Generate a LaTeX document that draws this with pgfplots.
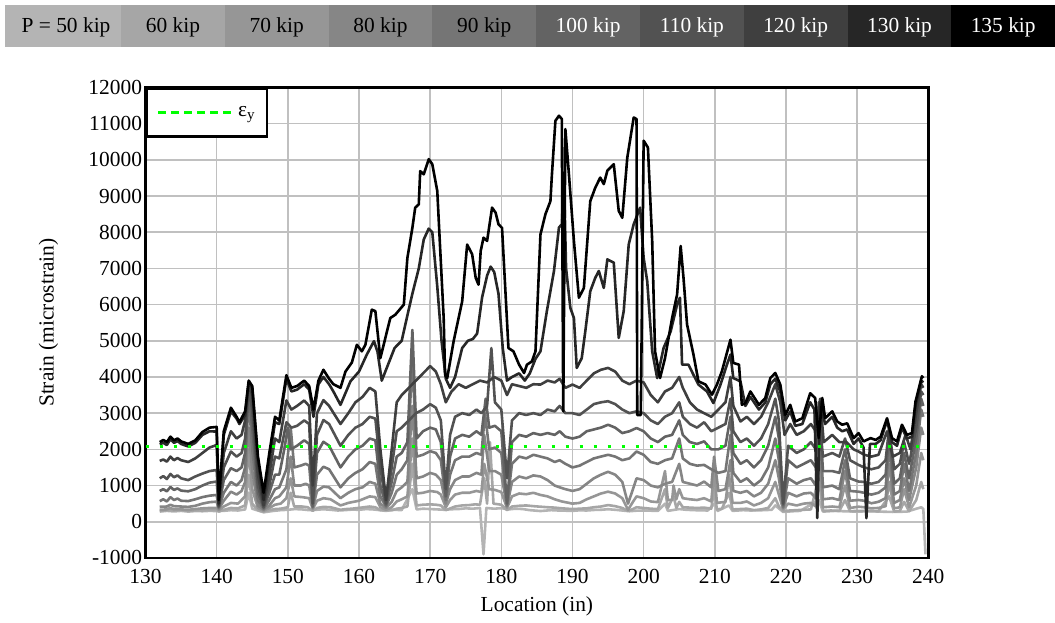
\documentclass[border=0pt]{standalone}
\usepackage{fontspec}
\setmainfont{Liberation Serif}
\usepackage{pgfplots}
\pgfplotsset{compat=1.18}
\definecolor{cA}{RGB}{180,180,180}
\definecolor{cB}{RGB}{166,166,166}
\definecolor{cC}{RGB}{150,150,150}
\definecolor{cD}{RGB}{134,134,134}
\definecolor{cE}{RGB}{117,117,117}
\definecolor{cF}{RGB}{99,99,99}
\definecolor{cG}{RGB}{82,82,82}
\definecolor{cH}{RGB}{63,63,63}
\definecolor{cI}{RGB}{38,38,38}
\definecolor{cJ}{RGB}{0,0,0}
\definecolor{gridc}{RGB}{192,192,192}
\definecolor{ygreen}{RGB}{0,255,0}
\newcommand{\fs}{\fontsize{21.5}{25}\selectfont}
\begin{document}
\begin{tikzpicture}
\path (0bp,0bp) rectangle (1055bp,-623bp);
% load colour bar
\fill[cA] (5bp,-5bp) rectangle (121bp,-47bp);
\fill[cB] (121bp,-5bp) rectangle (224.8bp,-47bp);
\fill[cC] (224.8bp,-5bp) rectangle (328.6bp,-47bp);
\fill[cD] (328.6bp,-5bp) rectangle (432.4bp,-47bp);
\fill[cE] (432.4bp,-5bp) rectangle (536.2bp,-47bp);
\fill[cF] (536.2bp,-5bp) rectangle (640bp,-47bp);
\fill[cG] (640bp,-5bp) rectangle (743.8bp,-47bp);
\fill[cH] (743.8bp,-5bp) rectangle (847.6bp,-47bp);
\fill[cI] (847.6bp,-5bp) rectangle (951.4bp,-47bp);
\fill[cJ] (951.4bp,-5bp) rectangle (1055bp,-47bp);
\node[font=\fs,text=black] at (66bp,-27bp) {P = 50 kip};
\node[font=\fs,text=black] at (172.9bp,-27bp) {60 kip};
\node[font=\fs,text=black] at (276.7bp,-27bp) {70 kip};
\node[font=\fs,text=black] at (380.5bp,-27bp) {80 kip};
\node[font=\fs,text=black] at (484.3bp,-27bp) {90 kip};
\node[font=\fs,text=white] at (588.1bp,-27bp) {100 kip};
\node[font=\fs,text=white] at (691.9bp,-27bp) {110 kip};
\node[font=\fs,text=white] at (795.7bp,-27bp) {120 kip};
\node[font=\fs,text=white] at (899.5bp,-27bp) {130 kip};
\node[font=\fs,text=white] at (1003.2bp,-27bp) {135 kip};
\begin{axis}[
  at={(145.5bp,-557.9bp)}, anchor=south west,
  scale only axis, width=782.8bp, height=470.4bp,
  xmin=130, xmax=240, ymin=-1000, ymax=12000,
  xtick={130,140,...,240}, ytick={-1000,0,...,12000},
  scaled y ticks=false, scaled x ticks=false,
  grid=major, major grid style={draw=gridc, line width=1.6bp},
  axis line style={line width=2.6bp},
  major tick length=0pt,
  tick label style={font=\fs},
  xticklabel style={yshift=-8bp},
  /pgf/number format/assume math mode=true,
  /pgf/number format/1000 sep={},
  xlabel={Location (in)}, ylabel={Strain (microstrain)},
  every axis x label/.style={at={(axis description cs:0.5,0)}, yshift=-48bp, anchor=center, font=\fs},
  every axis y label/.style={at={(axis description cs:0,0.5)}, xshift=-97bp, rotate=90, anchor=center, font=\fs},
  legend style={at={(0,1)}, anchor=north west, draw=black, line width=2.6bp, fill=white, font=\fs, inner xsep=10bp, inner ysep=16bp, legend cell align=left},
  legend image code/.code={\draw[#1, line width=3.3bp, dash pattern=on 7.5bp off 5.5bp] (0bp,0bp) -- (76bp,0bp);},
]
% 50 kip
\addplot[forget plot, color=cA, line width=2.6bp, line join=round] coordinates {
(132.0,280)(133.0,300)(134.0,285)(135.0,300)(136.0,280)(137.0,295)(138.0,290)(139.0,300)(140.0,295)(141.0,300)(142.0,320)(143.0,310)(144.0,340)(144.5,800)(145.0,360)(146.6,260)(148.0,300)(149.0,320)(150.0,330)(151.0,350)(152.0,340)(153.0,320)(154.0,330)(155.0,345)(156.0,330)(157.0,310)(158.0,320)(159.0,335)(160.0,330)(161.0,350)(162.0,340)(163.8,300)(165.0,330)(166.0,320)(167.5,900)(168.1,340)(169.0,360)(170.0,350)(171.0,340)(172.0,330)(173.0,345)(174.0,350)(175.0,370)(176.0,360)(177.0,380)(177.5,-900)(177.9,380)(179.0,360)(180.0,375)(181.0,340)(182.0,360)(183.0,350)(184.0,320)(185.5,295)(187.0,320)(188.0,310)(190.0,300)(191.0,315)(192.0,310)(193.0,325)(194.0,330)(195.0,345)(196.0,330)(198.0,290)(199.0,305)(200.0,310)(202.0,300)(203.0,500)(203.4,300)(205.0,350)(206.0,330)(207.0,320)(209.0,310)(210.0,500)(210.4,300)(212.0,450)(212.5,300)(214.0,320)(215.0,310)(217.0,320)(218.0,330)(218.5,450)(219.6,270)(221.0,290)(222.0,300)(224.6,600)(225.2,280)(227.0,300)(228.0,290)(230.0,280)(232.0,290)(233.0,280)(235.0,270)(237.0,280)(239.0,400)(239.3,350)(239.6,-900)
};
% 60 kip
\addplot[forget plot, color=cB, line width=2.6bp, line join=round] coordinates {
(132.0,300)(133.0,320)(134.0,310)(135.0,325)(136.0,300)(137.0,315)(138.0,310)(139.0,325)(140.0,320)(140.3,280)(141.0,330)(142.0,380)(143.0,370)(144.0,450)(144.5,1300)(145.0,500)(145.8,320)(146.6,280)(147.4,320)(148.2,350)(149.0,360)(150.0,400)(150.4,800)(150.9,420)(152.0,420)(152.8,400)(153.5,300)(154.1,380)(155.0,410)(156.0,400)(157.4,330)(158.2,350)(159.0,360)(160.3,390)(161.5,420)(162.3,400)(163.0,320)(164.6,320)(165.3,360)(166.0,380)(166.8,420)(167.5,1600)(168.1,450)(169.0,470)(170.0,480)(170.8,470)(171.5,450)(172.2,320)(173.5,420)(174.5,450)(175.5,460)(176.3,480)(177.0,470)(177.6,1200)(178.0,500)(178.4,2200)(178.9,500)(180.0,470)(180.8,320)(181.5,420)(182.5,440)(183.5,450)(184.5,430)(185.5,415)(186.5,400)(187.5,390)(188.5,370)(190.0,350)(191.0,360)(192.0,370)(193.0,400)(194.0,420)(195.0,460)(196.0,430)(197.0,380)(197.8,300)(198.5,350)(199.0,400)(200.0,380)(201.0,360)(202.0,350)(203.0,900)(203.4,380)(204.2,700)(204.6,380)(205.0,550)(205.5,400)(206.5,390)(207.5,380)(208.5,390)(209.5,360)(209.9,900)(210.3,340)(211.0,360)(212.0,800)(212.5,340)(213.5,350)(214.5,360)(215.5,320)(216.5,340)(217.5,380)(218.5,650)(219.0,420)(219.6,290)(220.5,310)(221.5,320)(222.5,330)(223.5,340)(224.6,1200)(225.2,300)(226.3,310)(227.5,300)(228.3,600)(229.0,290)(230.0,300)(231.0,300)(232.0,295)(233.0,290)(234.5,700)(235.2,280)(236.0,300)(236.6,550)(237.3,290)(238.3,600)(239.0,1100)(239.3,900)
};
% 70 kip
\addplot[forget plot, color=cC, line width=2.6bp, line join=round] coordinates {
(132.0,330)(133.0,340)(133.5,380)(134.0,340)(135.0,340)(136.0,330)(137.0,350)(138.0,370)(139.0,380)(140.0,380)(140.3,320)(141.0,420)(142.0,520)(143.0,500)(144.0,700)(144.5,2000)(145.0,900)(145.8,380)(146.6,300)(147.4,380)(148.2,470)(149.0,500)(149.8,650)(150.4,1200)(150.9,700)(152.0,680)(153.0,650)(153.5,350)(154.1,580)(155.0,650)(156.0,620)(157.4,450)(158.5,520)(160.0,580)(161.5,700)(162.3,680)(163.0,400)(163.8,330)(164.6,400)(165.3,560)(166.0,620)(166.8,700)(167.5,2300)(168.1,780)(169.0,800)(170.0,850)(171.0,820)(171.5,750)(172.2,400)(172.8,600)(173.5,750)(174.5,800)(175.5,800)(176.5,850)(177.2,820)(177.6,1600)(178.3,900)(179.1,880)(180.0,820)(180.8,380)(181.5,700)(182.5,780)(183.5,760)(184.5,800)(185.5,740)(186.5,700)(187.5,620)(188.5,560)(190.0,500)(191.0,520)(192.0,620)(193.0,700)(194.0,780)(195.0,830)(196.0,780)(197.0,650)(197.8,330)(198.5,550)(199.0,700)(200.0,650)(201.0,560)(202.0,540)(203.0,1400)(203.4,600)(204.0,600)(204.2,1000)(204.6,620)(205.0,900)(205.5,650)(206.5,620)(207.5,600)(208.5,650)(209.5,560)(209.9,1400)(210.3,520)(211.5,550)(212.0,1300)(212.5,520)(213.6,520)(214.5,560)(215.5,450)(216.5,520)(217.5,650)(218.5,1100)(219.0,750)(219.6,340)(220.3,500)(221.5,450)(222.5,500)(223.5,520)(224.2,420)(224.6,2000)(225.2,400)(226.5,420)(227.5,400)(228.3,1000)(229.0,380)(230.2,415)(231.0,400)(232.0,370)(233.0,380)(234.0,430)(234.5,1100)(235.2,370)(236.0,400)(236.6,900)(237.3,400)(238.3,1000)(239.0,1900)(239.3,1700)
};
% 80 kip
\addplot[forget plot, color=cD, line width=2.6bp, line join=round] coordinates {
(132.0,415)(133.0,420)(133.5,470)(134.0,430)(135.0,420)(136.0,410)(137.0,440)(138.0,500)(139.0,540)(140.0,555)(140.3,350)(141.0,580)(142.0,830)(142.8,750)(143.5,850)(144.0,1100)(144.5,2600)(145.0,1400)(145.8,450)(146.6,330)(147.4,450)(148.2,650)(148.8,700)(149.8,950)(150.4,1800)(150.9,1000)(151.8,1000)(152.5,1050)(153.0,1000)(153.5,380)(154.1,850)(155.0,970)(155.8,950)(156.6,800)(157.4,650)(158.5,800)(159.5,900)(160.5,950)(161.5,1100)(162.3,1050)(163.0,500)(163.8,380)(164.6,550)(165.3,850)(166.0,950)(166.8,1100)(167.5,3200)(168.1,1200)(169.0,1250)(170.0,1350)(170.8,1300)(171.5,1150)(172.2,500)(172.8,900)(173.5,1150)(174.5,1250)(175.5,1250)(176.5,1350)(177.2,1300)(177.6,2400)(178.3,1400)(179.1,1400)(180.0,1300)(180.8,420)(181.5,1100)(182.5,1250)(183.5,1200)(184.5,1280)(185.5,1250)(186.5,1150)(187.5,1000)(188.2,950)(189.0,900)(190.0,850)(191.0,900)(192.0,1050)(193.0,1200)(194.0,1300)(195.0,1380)(196.0,1300)(197.0,1100)(197.8,500)(198.5,900)(199.0,1200)(200.0,1150)(201.0,1000)(202.0,950)(203.0,1050)(204.0,1100)(205.0,1600)(205.5,1100)(206.5,1050)(207.5,1000)(208.5,1110)(209.5,950)(209.9,1800)(210.5,850)(211.5,900)(212.2,1700)(212.6,850)(213.6,800)(214.5,850)(215.5,700)(216.5,800)(217.5,1050)(218.5,1700)(219.0,1200)(219.6,380)(220.3,800)(221.5,700)(222.5,780)(223.5,800)(224.2,650)(224.6,2800)(225.2,620)(226.5,650)(227.5,600)(228.3,1400)(229.0,580)(230.2,600)(231.0,580)(232.0,510)(233.0,550)(234.0,650)(234.5,1600)(235.2,520)(236.0,600)(236.6,1200)(237.3,600)(238.3,1500)(239.0,2600)(239.3,2400)
};
% 90 kip
\addplot[forget plot, color=cE, line width=2.6bp, line join=round] coordinates {
(132.0,570)(132.5,620)(133.0,560)(133.5,680)(134.0,600)(134.5,640)(135.0,580)(136.0,570)(137.0,620)(138.0,680)(139.0,720)(140.0,740)(140.3,380)(141.0,800)(142.0,1100)(142.8,1000)(143.5,1150)(144.0,1500)(144.5,3400)(145.0,2000)(145.8,600)(146.6,350)(147.4,600)(148.2,900)(148.8,950)(149.8,1450)(150.4,2600)(150.9,1500)(151.8,1550)(152.5,1600)(153.0,1550)(153.5,400)(154.1,1300)(155.0,1520)(155.8,1450)(156.6,1200)(157.4,950)(158.5,1200)(159.5,1350)(160.5,1450)(161.5,1650)(162.3,1600)(163.0,700)(163.8,420)(164.6,800)(165.3,1300)(166.0,1450)(166.8,1700)(167.5,4500)(168.1,1800)(169.0,1850)(170.0,1950)(170.8,1900)(171.5,1700)(172.2,600)(172.8,1300)(173.5,1700)(174.5,1800)(175.5,1800)(176.5,1900)(177.2,1850)(177.7,3000)(178.3,2000)(179.1,2050)(180.0,1900)(180.8,450)(181.5,1600)(182.5,1800)(183.5,1750)(184.5,1850)(185.5,1800)(186.5,1750)(187.5,1650)(188.2,1700)(189.0,1600)(190.0,1500)(191.0,1550)(192.0,1650)(193.0,1750)(194.0,1800)(195.0,1850)(196.0,1800)(197.0,1700)(198.0,1750)(199.0,1940)(200.0,1850)(201.0,1650)(202.0,1600)(203.0,1700)(204.0,1750)(205.0,2300)(205.5,1750)(206.5,1600)(207.5,1550)(208.5,1570)(209.5,1450)(210.5,1350)(211.5,1400)(212.2,2400)(212.6,1350)(213.6,1100)(214.5,1200)(215.5,1000)(216.5,1150)(217.5,1500)(218.5,2300)(219.0,1700)(219.6,400)(220.3,1200)(221.5,1050)(222.5,1150)(223.5,1200)(224.2,1000)(224.6,3200)(225.2,950)(226.5,1000)(227.5,900)(228.3,1700)(229.0,850)(230.2,830)(231.0,800)(232.0,750)(233.0,800)(234.0,950)(234.5,2100)(235.2,750)(236.0,850)(236.6,1600)(237.3,850)(238.3,1900)(239.0,3100)(239.3,2900)
};
% 100 kip
\addplot[forget plot, color=cF, line width=2.6bp, line join=round] coordinates {
(132.0,850)(132.5,900)(133.0,840)(133.5,960)(134.0,880)(134.5,920)(135.0,860)(136.0,840)(137.0,900)(138.0,1000)(139.0,1080)(140.0,1110)(140.3,400)(141.0,1150)(142.0,1480)(142.8,1400)(143.5,1500)(144.0,1900)(144.5,3600)(145.0,2600)(145.8,800)(146.6,380)(147.4,800)(148.2,1300)(148.8,1300)(149.5,2000)(150.0,2600)(150.4,2000)(151.3,2100)(152.3,2250)(153.0,2150)(153.5,420)(154.1,1900)(155.0,2210)(155.8,2100)(156.6,1800)(157.4,1500)(158.5,1800)(159.5,2000)(160.5,2100)(161.5,2300)(162.3,2250)(163.0,1000)(163.8,450)(164.6,1100)(165.3,1800)(166.0,1900)(166.8,2200)(167.5,5300)(168.1,2300)(169.0,2500)(170.0,2600)(170.8,2550)(171.5,2200)(172.2,700)(172.8,1800)(173.5,2300)(174.5,2400)(175.5,2350)(176.5,2500)(177.2,2400)(177.8,3400)(178.3,2600)(179.1,2650)(180.0,2500)(180.8,500)(181.5,2200)(182.5,2400)(183.5,2350)(184.5,2450)(185.5,2400)(186.5,2450)(187.5,2400)(188.2,2500)(189.0,2350)(190.0,2300)(191.0,2350)(192.0,2500)(193.0,2550)(194.0,2600)(195.0,2680)(196.0,2600)(197.0,2450)(198.0,2500)(199.0,2590)(200.0,2500)(201.0,2300)(202.0,2200)(203.0,2350)(204.0,2400)(205.0,2800)(205.5,2400)(206.5,2200)(207.5,2150)(208.5,2220)(209.5,2000)(210.5,2000)(211.5,2100)(212.2,2900)(212.6,1900)(213.6,1600)(214.5,1700)(215.5,1500)(216.5,1700)(217.5,2100)(218.5,2900)(219.0,2300)(219.6,450)(220.3,1700)(221.5,1500)(222.5,1600)(223.5,1700)(224.2,1500)(224.6,3300)(225.2,1400)(226.5,1400)(227.5,1350)(228.3,2000)(229.0,1200)(230.2,1110)(231.0,1100)(232.0,1050)(233.0,1100)(234.0,1300)(234.5,2400)(235.2,1050)(236.0,1200)(236.6,1900)(237.3,1200)(238.3,2300)(239.0,3400)(239.3,3200)
};
% 110 kip
\addplot[forget plot, color=cG, line width=2.6bp, line join=round] coordinates {
(132.0,1200)(132.5,1260)(133.0,1180)(133.5,1320)(134.0,1230)(134.5,1280)(135.0,1200)(136.0,1150)(137.0,1250)(138.0,1330)(139.0,1400)(140.0,1430)(140.3,420)(141.0,1500)(142.0,1940)(142.8,1800)(143.5,1900)(144.0,2300)(144.5,3700)(145.0,3100)(145.8,1000)(146.6,400)(147.4,1000)(148.2,1800)(148.8,1750)(149.8,2750)(150.5,2600)(151.3,2650)(152.3,2800)(153.0,2700)(153.5,500)(154.1,2400)(155.0,2810)(155.8,2700)(156.6,2400)(157.4,2100)(158.5,2400)(159.5,2600)(160.5,2700)(161.5,2900)(162.3,2850)(163.0,1500)(163.8,500)(164.6,1500)(165.3,2500)(166.0,2600)(167.0,2800)(168.0,3000)(169.0,3100)(170.0,3250)(170.8,3150)(171.5,2800)(172.2,900)(172.8,2400)(173.5,2900)(174.5,3000)(175.5,2950)(176.5,3100)(177.2,3000)(178.0,3200)(178.6,4800)(179.1,3300)(180.0,3100)(180.8,1200)(181.5,2800)(182.5,3000)(183.5,2950)(184.5,3000)(185.5,2950)(186.5,3100)(187.5,3050)(188.2,3200)(189.0,3000)(190.0,3000)(191.0,2950)(192.0,3100)(193.0,3250)(194.0,3300)(195.0,3330)(196.0,3250)(197.0,3100)(198.0,3000)(199.0,3050)(200.0,3000)(201.0,2800)(202.0,2700)(203.0,2900)(204.0,3000)(205.0,3300)(205.5,2900)(206.5,2700)(207.5,2600)(208.5,2750)(209.5,2500)(210.5,2600)(211.5,2700)(212.2,3400)(212.6,2500)(213.6,2200)(214.5,2300)(215.5,2100)(216.5,2300)(217.5,2700)(218.5,3400)(219.0,2800)(219.6,500)(220.3,2100)(221.5,1900)(222.5,2000)(223.5,2200)(224.2,2000)(224.6,3000)(225.2,1800)(226.5,1900)(227.5,1800)(228.3,2300)(229.0,1700)(230.2,1570)(231.0,1500)(232.0,1450)(233.0,1500)(234.0,1700)(234.5,2600)(235.2,1450)(236.0,1600)(236.6,2200)(237.3,1600)(238.3,2600)(239.0,3600)(239.3,3500)
};
% 120 kip
\addplot[forget plot, color=cH, line width=2.6bp, line join=round] coordinates {
(132.0,1680)(132.5,1720)(133.0,1660)(133.5,1800)(134.0,1700)(134.5,1760)(135.0,1700)(136.0,1650)(137.0,1750)(138.0,1900)(139.0,2050)(140.0,2120)(140.3,450)(141.0,1900)(142.0,2500)(142.8,2300)(143.5,2400)(144.0,2800)(144.5,3800)(145.0,3500)(145.8,1300)(146.6,450)(147.4,1300)(148.2,2300)(148.8,2200)(149.8,3350)(150.5,3100)(151.3,3200)(152.3,3350)(153.0,3200)(153.5,1000)(154.1,3000)(155.0,3360)(155.8,3200)(156.6,2950)(157.4,2700)(158.5,3000)(159.5,3300)(160.5,3450)(161.5,3700)(162.3,3600)(163.0,2000)(163.8,600)(164.6,2000)(165.3,3300)(166.0,3500)(167.0,3700)(168.0,3900)(169.0,4100)(170.0,4300)(170.8,4150)(171.5,3800)(172.2,3300)(173.0,3600)(174.0,3800)(175.0,3700)(176.0,3800)(177.0,3900)(178.0,3850)(179.0,4000)(180.0,3900)(180.8,3500)(181.5,3800)(182.5,3750)(183.5,3700)(184.5,3800)(185.5,3790)(186.5,3900)(187.5,3850)(188.2,3950)(189.0,3700)(190.0,3790)(191.0,3700)(192.0,3900)(193.0,4100)(194.0,4200)(195.0,4250)(196.0,4150)(197.0,3900)(198.0,3800)(199.0,3900)(200.0,3850)(201.0,3500)(202.0,3300)(203.0,3600)(204.0,3700)(205.0,4000)(205.5,3700)(206.5,3300)(207.5,3100)(208.5,3000)(209.5,2900)(210.5,3100)(211.5,3300)(212.2,4000)(212.6,3200)(213.6,2770)(214.5,2900)(215.5,2700)(216.5,2900)(217.5,3300)(218.5,3800)(219.2,3300)(219.8,2400)(220.6,2700)(221.5,2400)(222.5,2500)(223.5,2700)(224.2,2500)(224.8,3400)(225.3,2200)(226.5,2400)(227.5,2200)(228.5,2200)(229.5,2000)(230.2,1940)(231.0,1850)(232.0,1800)(233.0,1850)(234.2,2500)(235.0,1800)(236.0,1900)(236.8,2400)(237.5,2000)(238.3,3000)(239.0,3800)(239.3,3700)
};
% 130 kip
\addplot[forget plot, color=cI, line width=2.6bp, line join=round] coordinates {
(132.0,2140)(132.5,2180)(133.0,2120)(133.5,2280)(134.0,2180)(134.5,2230)(135.0,2150)(136.0,2080)(137.0,2180)(138.0,2400)(139.0,2500)(140.0,2490)(140.3,500)(141.0,2400)(142.0,3050)(142.8,2850)(143.2,2700)(144.0,2950)(144.5,3850)(145.0,3700)(145.8,1700)(146.6,600)(147.4,1700)(148.2,2750)(148.8,2700)(149.8,3950)(150.5,3600)(151.3,3650)(152.3,3800)(153.0,3650)(153.6,2900)(154.3,3800)(155.0,4000)(155.8,3800)(156.4,3600)(157.4,3230)(158.8,3880)(160.0,4150)(161.1,4620)(162.1,4990)(162.6,4700)(163.2,3900)(164.0,4300)(165.0,4800)(166.0,5000)(166.8,5700)(167.5,6300)(168.4,7000)(169.1,7800)(169.8,8100)(170.3,8000)(171.0,6500)(171.6,5000)(172.2,3950)(172.8,3700)(173.5,4000)(174.5,4800)(175.3,5000)(176.0,5050)(176.6,5200)(177.3,6200)(178.0,6800)(178.5,7050)(179.0,6900)(179.6,6300)(180.2,4800)(180.8,3900)(181.5,4000)(182.5,4100)(183.3,3900)(184.0,4100)(184.8,4500)(185.5,4710)(186.4,5820)(187.4,6930)(188.1,8130)(188.5,8220)(188.8,9500)(189.1,7000)(189.7,5910)(190.2,5630)(190.6,4250)(191.3,4520)(191.8,5260)(192.5,6370)(193.2,6740)(193.7,6930)(194.4,6460)(194.9,7250)(195.8,7160)(196.5,5080)(197.2,5820)(197.9,7660)(198.6,8220)(199.5,8680)(200.0,7290)(200.5,6650)(201.2,4710)(201.9,3970)(202.8,4800)(203.8,5260)(204.7,6000)(205.1,6190)(205.4,4340)(206.3,4340)(207.0,4060)(207.7,3790)(208.9,3600)(209.8,3280)(210.8,3790)(211.7,4340)(212.2,4620)(212.6,3970)(213.6,3880)(214.3,3200)(215.0,3450)(216.2,3100)(217.1,3300)(217.8,3800)(218.5,3950)(219.2,3600)(219.9,2800)(220.6,3050)(221.3,2650)(222.3,2700)(223.4,3300)(224.0,3100)(224.4,100)(224.8,3300)(225.5,2700)(226.5,2900)(227.2,2600)(227.9,2500)(228.6,2550)(229.5,2150)(230.2,2300)(230.9,2050)(231.3,100)(231.8,2150)(232.6,2150)(233.3,2250)(234.2,2800)(234.9,2200)(235.6,2100)(236.3,2600)(237.0,2300)(237.7,2350)(238.2,3200)(239.0,3900)(239.3,3850)
};
% 135 kip
\addplot[forget plot, color=cJ, line width=2.6bp, line join=round] coordinates {
(132.0,2200)(132.5,2260)(133.0,2200)(133.5,2350)(134.0,2250)(134.5,2300)(135.0,2220)(136.0,2150)(137.0,2250)(138.0,2480)(139.0,2600)(140.0,2620)(140.3,600)(141.0,2500)(142.0,3150)(142.8,2900)(143.2,2750)(144.0,3050)(144.5,3900)(145.0,3750)(145.8,1800)(146.6,800)(147.4,1900)(148.2,2900)(148.8,2800)(149.8,4050)(150.5,3700)(151.3,3750)(152.3,3900)(153.0,3750)(153.6,3100)(154.3,3900)(155.0,4200)(155.8,3950)(156.4,3800)(157.4,3700)(158.1,4150)(159.0,4400)(159.7,4890)(160.4,4710)(160.9,4890)(161.8,5860)(162.3,5820)(163.0,4520)(164.4,5630)(165.1,5720)(166.3,6000)(166.8,7290)(167.5,8120)(167.9,8680)(168.4,8770)(168.6,9690)(169.1,9600)(169.8,10020)(170.3,9880)(171.0,9140)(171.4,7570)(171.9,5630)(172.1,4060)(172.4,3970)(173.3,4990)(174.5,6090)(175.2,7660)(175.9,7390)(176.4,6740)(176.8,6550)(177.1,7480)(177.5,7850)(178.0,7760)(178.7,8680)(179.2,8540)(179.6,8220)(180.1,8120)(180.6,6280)(181.0,4800)(181.7,4710)(182.5,4340)(183.2,4110)(183.6,4340)(184.3,4430)(184.8,4710)(185.5,7940)(186.2,8500)(186.9,8860)(187.1,9560)(187.6,11080)(188.1,11220)(188.5,11130)(188.7,3050)(189.0,10850)(189.5,9600)(190.2,7760)(190.9,6190)(191.6,6460)(192.5,8860)(193.2,9230)(193.9,9510)(194.4,9330)(194.9,9700)(195.8,9880)(196.5,8590)(197.0,8400)(197.7,10060)(198.6,11170)(199.0,11130)(199.1,2950)(199.6,2950)(200.0,10530)(200.6,10340)(201.2,7760)(201.6,4710)(202.3,3970)(203.0,4520)(204.0,5630)(204.7,6280)(205.2,7620)(205.6,6740)(206.1,5450)(207.0,4620)(207.7,3880)(208.7,3790)(209.6,3510)(210.3,3790)(211.0,4160)(212.2,5030)(212.6,4390)(213.4,4340)(213.8,3230)(214.3,3280)(215.0,3600)(216.2,3230)(217.1,3420)(217.8,3970)(218.5,4110)(219.2,3790)(219.9,2950)(220.6,3230)(221.3,2770)(222.3,2860)(223.4,3550)(224.1,3420)(224.6,2310)(225.1,3420)(225.5,2860)(226.5,3050)(227.2,2770)(227.9,2680)(228.6,2720)(229.5,2310)(230.2,2450)(230.9,2220)(231.9,2310)(232.6,2260)(233.3,2350)(234.2,2860)(234.9,2310)(235.6,2220)(236.3,2680)(237.0,2400)(237.7,2450)(238.2,3320)(239.1,4020)(239.3,3970)
};
% yield strain
\addplot[color=ygreen, line width=3bp, dash pattern=on 3bp off 11bp] coordinates {(130,2070) (240,2070)};
\addlegendentry{ε\textsubscript{y}}
\end{axis}
\end{tikzpicture}
\end{document}
